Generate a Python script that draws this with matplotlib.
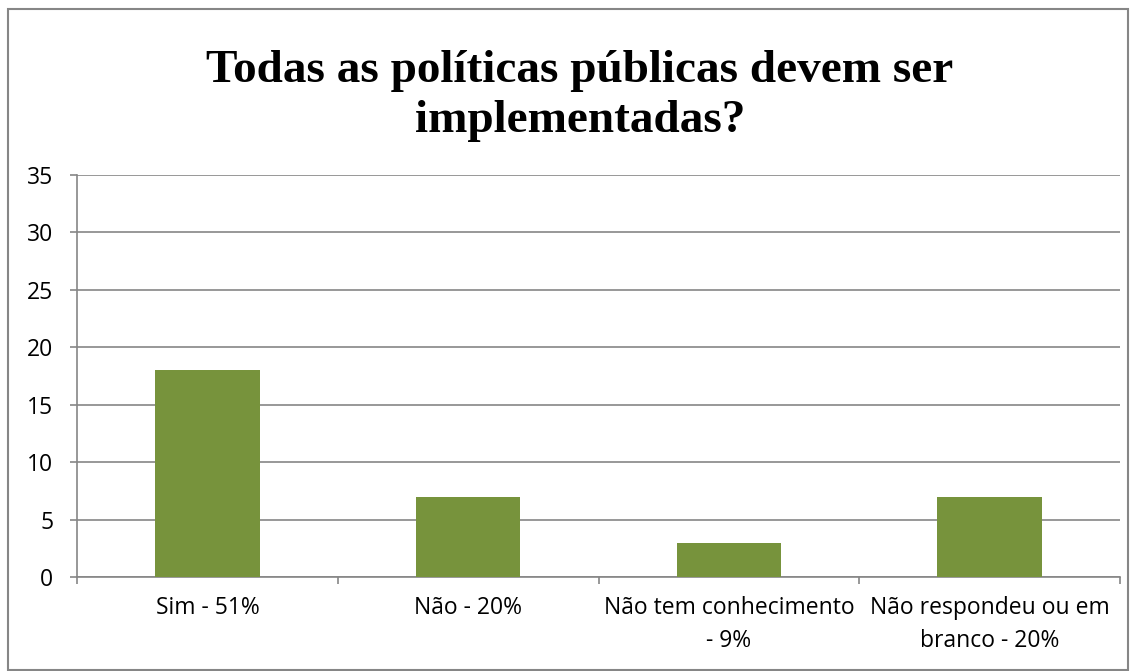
import matplotlib.pyplot as plt
import numpy as np
from matplotlib.patches import Rectangle

categories = ['Sim - 51%', 'Não - 20%', 'Não tem conhecimento\n- 9%', 'Não respondeu ou em\nbranco - 20%']
counts = [18, 7, 3, 7]
yticks = [0, 5, 10, 15, 20, 25, 30, 35]

axis_gray = '#868686'

fig = plt.figure(figsize=(11.37, 6.71), dpi=100)
ax = fig.add_axes([77/1137, 1-577/671, (1120-77)/1137, (577-175)/671])

x = np.arange(len(categories))
ax.bar(x, counts, width=0.4, color='#77933C', zorder=3)

ax.set_xlim(-0.5, len(categories) - 0.5)
ax.set_ylim(0, 35)
ax.set_yticks(yticks)
ax.yaxis.grid(True, color=axis_gray, linewidth=1.2, zorder=0)

# category ticks sit on the boundaries, labels in the middle
ax.set_xticks(np.arange(len(categories) + 1) - 0.5)
ax.set_xticklabels([])
ax.set_xticks(x, minor=True)
ax.set_xticklabels(categories, minor=True, fontsize=16.5, family='Open Sans', linespacing=1.45)
ax.tick_params(axis='x', which='minor', length=0, pad=14)
ax.tick_params(axis='x', which='major', length=5, color=axis_gray, width=1.2)
ax.tick_params(axis='y', length=5, color=axis_gray, width=1.2, labelsize=16.5, pad=12)
for lbl in ax.get_yticklabels():
    lbl.set_family('Open Sans')

for side in ['top', 'right']:
    ax.spines[side].set_visible(False)
for side in ['left', 'bottom']:
    ax.spines[side].set_color(axis_gray)
    ax.spines[side].set_linewidth(1.2)

fig.text(580/1137, 1-96/671, 'Todas as políticas públicas devem ser\nimplementadas?',
         ha='center', va='center', fontsize=34, fontweight='bold',
         family='Liberation Serif', linespacing=1.22)

fig.patches.append(Rectangle((8/1137, 0.001), 1120/1137, 1-10/671, transform=fig.transFigure,
                             fill=False, edgecolor=axis_gray, linewidth=1.5))

fig.savefig('out.png', dpi=100)
